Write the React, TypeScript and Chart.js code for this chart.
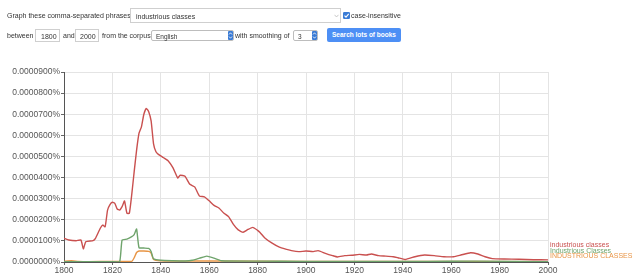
import React, { useEffect, useRef } from "react";
import { Chart, registerables } from "chart.js";

Chart.register(...registerables);

// ---- data (values in units of 0.0000001 %) ----
const seriesLabels = ["industrious classes", "Industrious Classes", "INDUSTRIOUS CLASSES"];
const seriesColors = ["#c9504f", "#6fa46c", "#e89546"];

const redYears = [
  1800, 1802, 1805, 1807, 1808, 1809, 1812, 1813, 1815, 1816, 1817, 1818, 1819, 1820, 1821, 1822, 1823,
  1824, 1825, 1826, 1827, 1828, 1829, 1830, 1831, 1832, 1833, 1834, 1835, 1836, 1837, 1838, 1839, 1841,
  1843, 1845, 1847, 1848, 1850, 1852, 1854, 1856, 1858, 1860, 1862, 1864, 1866, 1868, 1870, 1872, 1874,
  1876, 1878, 1880, 1881, 1883, 1886, 1889, 1892, 1894, 1897, 1900, 1903, 1905, 1908, 1911, 1913, 1916,
  1919, 1922, 1925, 1927, 1930, 1933, 1936, 1938, 1941, 1945, 1949, 1953, 1957, 1961, 1964, 1968, 1971,
  1974, 1977, 1982, 1988, 1994, 2000,
];
const redValues = [
  112, 104, 101, 104, 62, 96, 101, 112, 160, 175, 167, 246, 272, 283, 278, 251, 246,
  262, 289, 231, 231, 320, 428, 530, 610, 640, 700, 728, 712, 668, 560, 522, 510, 495,
  480, 447, 398, 411, 406, 368, 356, 312, 309, 290, 268, 256, 232, 215, 178, 152, 141,
  154, 164, 150, 140, 114, 89, 70, 60, 54, 49, 52, 49, 54, 41, 30, 24, 30,
  32, 36, 33, 38, 30, 28, 25, 20, 12, 25, 33, 30, 25, 25, 33, 44, 38,
  25, 16, 14, 13, 11, 10,
];

const greenYears = [
  1800, 1810, 1820, 1823, 1824, 1826, 1828, 1829, 1830, 1831, 1833, 1835, 1836, 1837, 1840, 1845, 1850,
  1853, 1856, 1859, 1862, 1865, 1880, 1900, 1950, 1970, 2000,
];
const greenValues = [
  2, 2, 2, 2, 104, 108, 120, 130, 156, 68, 66, 64, 50, 15, 8, 6, 5,
  8, 18, 28, 18, 6, 4, 3, 3, 4, 2,
];

const orangeYears = [
  1800, 1803, 1806, 1810, 1820, 1828, 1829, 1830, 1831, 1833, 1835, 1836, 1837, 1840, 1850, 1860, 1900,
  1950, 2000,
];
const orangeValues = [3, 6, 3, 2, 3, 3, 20, 45, 52, 52, 50, 42, 12, 6, 4, 5, 3, 3, 2];

const xMin = 1800;
const xMax = 2000;
const xStep = 20;
const yMin = 0;
const yMax = 900;
const yStep = 100;

const FONT = '"Liberation Sans", Arial, Helvetica, sans-serif';

const endLabels = {
  id: "endLabels",
  afterDatasetsDraw(chart: any) {
    const { ctx, chartArea } = chart;
    ctx.save();
    ctx.font = `7px ${FONT}`;
    ctx.textBaseline = "middle";
    ctx.textAlign = "left";
    chart.data.datasets.forEach((ds: any, i: number) => {
      ctx.fillStyle = ds.borderColor;
      ctx.fillText(ds.label, chartArea.right + 2, chartArea.bottom - 17 + i * 5.6);
    });
    ctx.restore();
  },
};

function ChartView() {
  const ref = useRef<HTMLCanvasElement | null>(null);
  useEffect(() => {
    if (!ref.current) return;
    const mk = (xs: number[], ys: number[]) => xs.map((x, i) => ({ x, y: ys[i] }));
    const chart = new Chart(ref.current, {
      type: "line",
      data: {
        datasets: [
          { label: seriesLabels[0], data: mk(redYears, redValues), borderColor: seriesColors[0] },
          { label: seriesLabels[1], data: mk(greenYears, greenValues), borderColor: seriesColors[1] },
          { label: seriesLabels[2], data: mk(orangeYears, orangeValues), borderColor: seriesColors[2] },
        ].map((d) => ({ ...d, borderWidth: 1.4, pointRadius: 0, tension: 0.15, fill: false })),
      },
      options: {
        responsive: false,
        animation: false,
        devicePixelRatio: 1,
        layout: { padding: { left: 0, right: 90, top: 72, bottom: 2 } },
        plugins: { legend: { display: false }, tooltip: { enabled: false } },
        scales: {
          x: {
            type: "linear",
            min: xMin,
            max: xMax,
            afterFit: (s: any) => {
              s.height = 14;
            },
            ticks: {
              stepSize: xStep,
              padding: 1,
              color: "#555",
              font: { family: FONT, size: 8.5 },
              callback: (v: any) => String(v),
              maxRotation: 0,
            },
            grid: { color: "#e4e4e4", tickColor: "#666", tickLength: 3 },
            border: { color: "#555", width: 1 },
          },
          y: {
            min: yMin,
            max: yMax,
            afterFit: (s: any) => {
              s.width = 64;
            },
            ticks: {
              stepSize: yStep,
              padding: 1,
              color: "#555",
              font: { family: FONT, size: 8.5 },
              callback: (v: any) => (Number(v) / 1e7).toFixed(7) + "%",
            },
            grid: { color: "#e4e4e4", tickColor: "#666", tickLength: 3 },
            border: { color: "#555", width: 1 },
          },
        },
      },
      plugins: [endLabels],
    });
    return () => chart.destroy();
  }, []);
  return <canvas ref={ref} width={638} height={278} style={{ position: "absolute", left: 0, top: 0 }} />;
}

const txt = (left: number, top: number, s: string, extra: any = {}) => (
  <div style={{ position: "absolute", left, top, fontSize: 7, color: "#333", whiteSpace: "nowrap", lineHeight: "9px", ...extra }}>
    {s}
  </div>
);

function BlueArrows({ left, top }: { left: number; top: number }) {
  return (
    <svg width={5} height={9} style={{ position: "absolute", left, top }}>
      <rect x={0} y={0} width={5} height={9} rx={1} fill="#3a7bd5" />
      <path d="M1 3.5 L2.5 1.8 L4 3.5 M1 5.5 L2.5 7.2 L4 5.5" stroke="#fff" strokeWidth={0.8} fill="none" />
    </svg>
  );
}

export default function App() {
  const box = { position: "absolute", background: "#fff", border: "1px solid #cfcfcf", boxSizing: "border-box" } as any;
  return (
    <div style={{ position: "fixed", left: 0, top: 0, width: 638, height: 278, background: "#fff", fontFamily: FONT, overflow: "hidden" }}>
      <ChartView />
      {txt(7, 11, "Graph these comma-separated phrases:")}
      <div style={{ ...box, left: 130, top: 8, width: 211, height: 15 }}>
        {txt(5, 2.5, "industrious classes")}
        <svg width={5} height={4} style={{ position: "absolute", left: 203, top: 5 }}>
          <path d="M0.5 0.8 L2.5 3 L4.5 0.8" stroke="#bbb" strokeWidth={0.8} fill="none" />
        </svg>
      </div>
      <svg width={7} height={7} style={{ position: "absolute", left: 343, top: 12 }}>
        <rect x={0} y={0} width={7} height={7} rx={1.2} fill="#3a7bd5" />
        <path d="M1.5 3.6 L3 5.2 L5.7 1.9" stroke="#fff" strokeWidth={1.1} fill="none" />
      </svg>
      {txt(351, 11, "case-insensitive")}

      {txt(7, 31, "between")}
      <div style={{ ...box, left: 35, top: 29, width: 25, height: 13 }}>{txt(5, 1.5, "1800")}</div>
      {txt(63, 31, "and")}
      <div style={{ ...box, left: 75, top: 29, width: 24, height: 13 }}>{txt(4, 1.5, "2000")}</div>
      {txt(102, 31, "from the corpus")}
      <div style={{ ...box, left: 151, top: 30, width: 83, height: 11, borderRadius: 2, border: "1px solid #bdbdbd" }}>
        {txt(4, 0.5, "English", { fontSize: 6.5 })}
        <BlueArrows left={76} top={0} />
      </div>
      {txt(235, 31, "with smoothing of")}
      <div style={{ ...box, left: 293, top: 30, width: 25, height: 11, borderRadius: 2, border: "1px solid #bdbdbd" }}>
        {txt(4, 0.5, "3", { fontSize: 6.5 })}
        <BlueArrows left={18} top={0} />
      </div>
      <div
        style={{
          position: "absolute",
          left: 327,
          top: 28,
          width: 74,
          height: 14,
          background: "#4d8ff5",
          borderRadius: 2,
          color: "#fff",
          fontSize: 6.5,
          fontWeight: "bold",
          lineHeight: "14px",
          textAlign: "center",
          whiteSpace: "nowrap",
        }}
      >
        Search lots of books
      </div>
    </div>
  );
}
